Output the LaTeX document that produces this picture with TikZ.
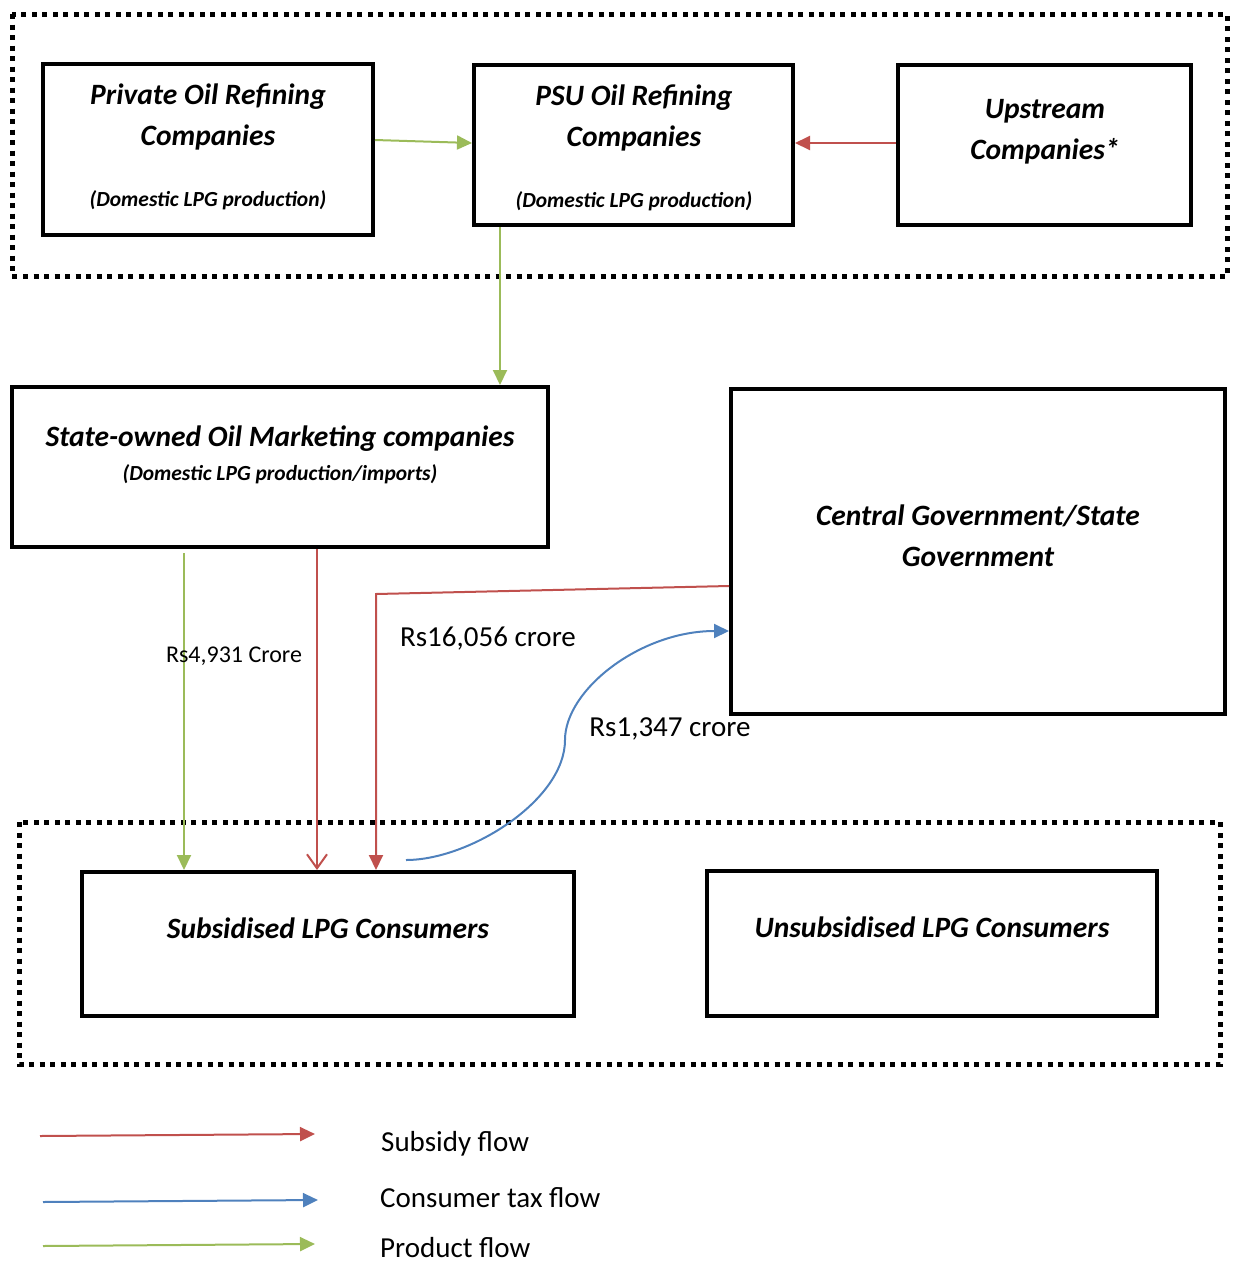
\documentclass[tikz,border=0pt]{standalone}
\usepackage{fontspec}
\setmainfont{Carlito}
\usetikzlibrary{arrows.meta,calc}

\definecolor{subsidyred}{HTML}{C0504D}
\definecolor{taxblue}{HTML}{4F81BD}
\definecolor{productgreen}{HTML}{9BBB59}

\tikzset{
  box/.style={draw=black, line width=4pt, inner sep=0pt, fill=none},
  group/.style={draw=black, line width=5pt, dash pattern=on 5pt off 5.5pt},
  title/.style={anchor=base, inner sep=0pt, font=\fontsize{29.5}{35}\selectfont\bfseries\itshape},
  subtitle/.style={anchor=base, inner sep=0pt, font=\fontsize{21.5}{26}\selectfont\bfseries\itshape},
  amount/.style={anchor=base, inner sep=0pt, font=\fontsize{29}{34}\selectfont},
  legendtext/.style={anchor=base west, inner sep=0pt, font=\fontsize{29}{34}\selectfont},
  subsidy/.style={draw=subsidyred, line width=2pt, -{Triangle[length=15pt,width=14pt]}},
  subsidyopen/.style={draw=subsidyred, line width=2pt, -{Straight Barb[length=14pt,width=20pt,line width=2pt]}},
  tax/.style={draw=taxblue, line width=2pt, -{Triangle[length=15pt,width=14pt]}},
  product/.style={draw=productgreen, line width=2pt, -{Triangle[length=15pt,width=14pt]}},
}

\begin{document}
\begin{tikzpicture}[x=1pt, y=-1pt]
\useasboundingbox (0,0) rectangle (1234,1262);

% dotted groupings
\draw[group] (12,14) rectangle (1227,276);
\draw[group] (19,822) rectangle (1220,1064);

% boxes
\node[box, minimum width=330pt, minimum height=171pt] (priv) at (208,149.5) {};
\node[box, minimum width=319pt, minimum height=160pt] (psu) at (633.5,145) {};
\node[box, minimum width=293pt, minimum height=160pt] (up) at (1044.5,145) {};
\node[box, minimum width=536pt, minimum height=160pt] (omc) at (280,467) {};
\node[box, minimum width=494pt, minimum height=325pt] (gov) at (978,551.5) {};
\node[box, minimum width=492pt, minimum height=144pt] (sub) at (328,944) {};
\node[box, minimum width=450pt, minimum height=145pt] (unsub) at (932,943.5) {};

% box texts
\node[title] (privA) at (208,104.5) {Private Oil Refining};
\node[title] (privB) at (208,145.5) {Companies};
\node[subtitle] (privC) at (208,206) {(Domestic LPG production)};

\node[title] (psuA) at (634,105.5) {PSU Oil Refining};
\node[title] (psuB) at (634,146.5) {Companies};
\node[subtitle] (psuC) at (634,207) {(Domestic LPG production)};

\node[title] (upA) at (1045,118.5) {Upstream};
\node[title] (upB) at (1045,159.5) {Companies*};

\node[title] (omcA) at (280,446.5) {State-owned Oil Marketing companies};
\node[subtitle] (omcB) at (280,480) {(Domestic LPG production/imports)};

\node[title] (govA) at (978,525.5) {Central Government/State};
\node[title] (govB) at (978,566.5) {Government};

\node[title] (subA) at (328,938.5) {Subsidised LPG Consumers};
\node[title] (unsubA) at (932,937.5) {Unsubsidised LPG Consumers};

% flows among producers
\draw[product] (priv.east |- 0,140) -- (psu.west |- 0,143);
\draw[subsidy] (up.west |- 0,143) -- (psu.east |- 0,143);
\draw[product] (psu.south -| 500,0) -- (omc.north -| 500,0);

% flows to subsidised consumers
\coordinate (gstart) at (184,553);
\draw[product] (gstart) -- (sub.north -| gstart);
\draw[subsidyopen] (omc.south -| 317,0) -- (sub.north -| 317,0);
\coordinate (rbend) at (376,594);
\draw[subsidy] (gov.west |- 0,586) -- (rbend) -- (sub.north -| rbend);

% consumer tax back to government
\coordinate (bstart) at (406,860);
\draw[tax] (bstart) .. controls (470,860) and (565,800) .. (565,740)
  .. controls (565,690) and (640,631) .. (gov.west |- 0,631);

% amounts
\node[amount, font=\fontsize{24}{28}\selectfont] (amtA) at (234,662) {Rs4,931 Crore};
\node[amount] (amtB) at (488,646) {Rs16,056 crore};
\node[amount] (amtC) at (670,736) {Rs1,347 crore};

% legend
\coordinate (l1a) at (40,1136);  \coordinate (l1b) at (315,1134);
\coordinate (l2a) at (43,1202);  \coordinate (l2b) at (318,1200);
\coordinate (l3a) at (43,1246);  \coordinate (l3b) at (315,1244);
\draw[subsidy] (l1a) -- (l1b);
\draw[tax] (l2a) -- (l2b);
\draw[product] (l3a) -- (l3b);
\node[legendtext] (legA) at (381,1151) {Subsidy flow};
\node[legendtext] (legB) at (380,1207) {Consumer tax flow};
\node[legendtext] (legC) at (380,1257) {Product flow};
\end{tikzpicture}
\end{document}
